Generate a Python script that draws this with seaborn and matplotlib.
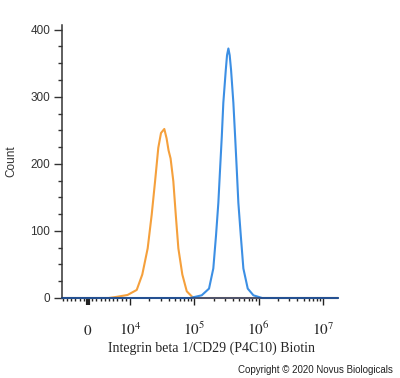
import pandas as pd
import seaborn as sns
import matplotlib.pyplot as plt
from matplotlib.ticker import FixedLocator

# Histogram traces (fluorescence intensity vs. event count)
orange_fl = [-6190, 4.9e3, 6.6e3, 9.4e3, 1.27e4, 1.55e4, 1.88e4, 2.17e4, 2.45e4, 2.75e4,
             3.03e4, 3.41e4, 3.70e4, 3.97e4, 4.27e4, 4.71e4, 5.14e4, 5.64e4, 6.50e4,
             7.62e4, 9.31e4, 1.14e5, 1.71e7]
orange_count = [0, 0, 1.5, 4.5, 12, 35, 74, 124, 174, 224, 246, 252, 238, 220, 208,
                174, 124, 74, 35, 10, 1.5, 0, 0]

blue_fl = [-6190, 8.57e4, 1.30e5, 1.69e5, 1.97e5, 2.17e5, 2.36e5, 2.51e5, 2.67e5, 2.82e5,
           3.08e5, 3.22e5, 3.38e5, 3.54e5, 3.72e5, 4.04e5, 4.30e5, 4.56e5, 4.83e5,
           5.27e5, 5.78e5, 6.76e5, 8.28e5, 1.13e6, 1.71e7]
blue_count = [0, 0, 4, 14, 44, 93, 142, 192, 241, 291, 340, 362, 372, 362, 340, 291,
              241, 192, 142, 93, 44, 14, 4, 0, 0]

x_ticks = [0, 1e4, 1e5, 1e6, 1e7]
x_ticklabels = ['$0$', '$10^{4}$', '$10^{5}$', '$10^{6}$', '$10^{7}$']
y_ticks = [0, 100, 200, 300, 400]

orange_df = pd.DataFrame({'fl': orange_fl, 'count': orange_count})
blue_df = pd.DataFrame({'fl': blue_fl, 'count': blue_count})

sns.set_style("ticks")
plt.rcParams['font.family'] = ['Liberation Sans', 'DejaVu Sans']
plt.rcParams['mathtext.fontset'] = 'stix'

fig = plt.figure(figsize=(4, 3.78), dpi=100)
ax = fig.add_axes([62 / 400, 80 / 378, 276 / 400, 273 / 378])

sns.lineplot(data=orange_df, x='fl', y='count', sort=False, estimator=None,
             color='#F5A03C', lw=1.5, clip_on=False, ax=ax)
sns.lineplot(data=blue_df, x='fl', y='count', sort=False, estimator=None,
             color='#3C8FE4', lw=1.5, clip_on=False, ax=ax)

# biexponential-like axis: linear around zero, log above 10^4
ax.set_xscale('symlog', linthresh=1e4, linscale=0.588)
ax.set_xlim(-6190, 1.71e7)
ax.set_ylim(0, 407)

ax.set_xticks(x_ticks)
ax.set_xticklabels(x_ticklabels, fontsize=11)
minor = [m * 1000 for m in range(-6, 10) if m != 0]
for dec in [1e4, 1e5, 1e6]:
    minor += [k * dec for k in range(2, 10)]
ax.xaxis.set_minor_locator(FixedLocator(minor))

ax.set_yticks(y_ticks)
ax.yaxis.set_minor_locator(FixedLocator(list(range(25, 400, 25))))

ax.tick_params(axis='x', which='major', length=5, width=1, pad=21.5, color='#222222')
ax.tick_params(axis='x', which='minor', length=2.4, width=1, color='#222222')
ax.tick_params(axis='y', which='major', length=5.5, width=1, pad=3, labelsize=8.5,
               color='#333333', labelcolor='#333333')
ax.tick_params(axis='y', which='minor', length=3, width=1, color='#333333')
for lbl in ax.get_xticklabels():
    lbl.set_verticalalignment('baseline')
ax.xaxis.get_major_ticks()[0].tick1line.set_markeredgewidth(3)

sns.despine(ax=ax)
ax.spines['left'].set_linewidth(1.1)
ax.spines['left'].set_color('#333333')
ax.spines['bottom'].set_linewidth(1.1)
ax.spines['bottom'].set_color('#1f3f7a')

ax.set_xlabel('Integrin beta 1/CD29 (P4C10) Biotin', fontsize=10,
              family='Liberation Serif', va='top')
ax.xaxis.set_label_coords(0.543, -0.16)
ax.set_ylabel('Count', fontsize=8.5, color='#333333')
ax.yaxis.set_label_coords(-0.16, 0.5)

fig.text(0.983, 0.013, 'Copyright \u00a9 2020 Novus Biologicals', ha='right',
         va='baseline', fontsize=7, color='#222222')

plt.savefig('out.png', dpi=100)
